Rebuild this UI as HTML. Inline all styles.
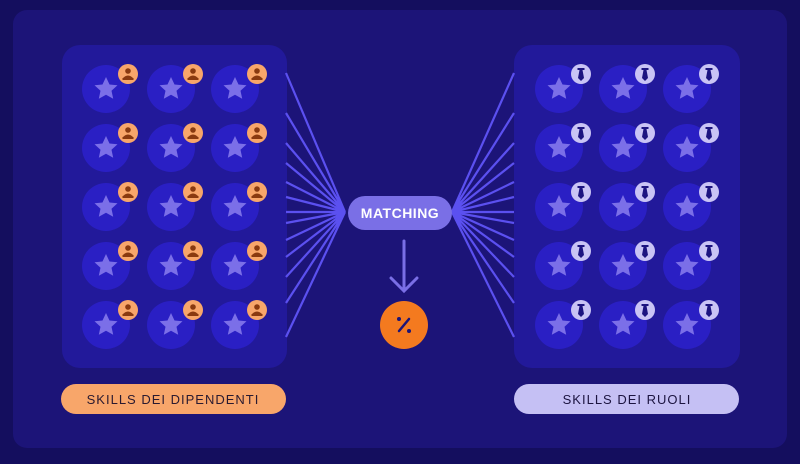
<!DOCTYPE html>
<html><head><style>
body{margin:0;width:800px;height:459px;background:#140e5e;overflow:hidden;font-family:"Liberation Sans",sans-serif}
</style></head><body>
<svg width="800" height="459" xmlns="http://www.w3.org/2000/svg">
<defs>
<g id="star"><polygon points="0,-12 3.5,-4.5 11.5,-3.7 5.5,1.8 7.2,9.8 0,5.8 -7.2,9.8 -5.5,1.8 -11.5,-3.7 -3.5,-4.5" fill="#7b6fe8"/></g>
<g id="cellL"><circle r="24" fill="#2a1fc4"/><use href="#star"/>
<circle cx="22" cy="-15" r="10" fill="#f8a66a"/><circle cx="22" cy="-18" r="2.8" fill="#8a3a10"/><path d="M16.5,-10.5 q5.5,-6 11,0 z" fill="#8a3a10"/><rect x="16.5" y="-11" width="11" height="2" fill="#8a3a10"/></g>
<g id="cellR"><circle r="24" fill="#2a1fc4"/><use href="#star"/>
<circle cx="22" cy="-15" r="10" fill="#c9c4f5"/><rect x="18.5" y="-21" width="7" height="2" fill="#1c1480"/><path d="M20.5,-19 h3 l1.5,8 l-3,3 l-3,-3 z" fill="#1c1480"/></g>
</defs>
<rect x="13" y="10" width="774" height="438" rx="14" fill="#1c1478"/>
<rect x="62" y="45" width="225" height="323" rx="18" fill="#22199a"/>
<rect x="514" y="45" width="226" height="323" rx="18" fill="#22199a"/>
<g stroke="#5b50f0" stroke-width="2.2" fill="none">
<path d="M345,212 L286,73 M345,212 L286,113 M345,212 L286,143 M345,212 L286,163 M345,212 L286,182 M345,212 L286,197 M345,212 L286,212 M345,212 L286,223 M345,212 L286,240 M345,212 L286,257 M345,212 L286,277 M345,212 L286,303 M345,212 L286,337"/>
<path d="M452,212 L514,73 M452,212 L514,113 M452,212 L514,143 M452,212 L514,163 M452,212 L514,182 M452,212 L514,197 M452,212 L514,212 M452,212 L514,223 M452,212 L514,240 M452,212 L514,257 M452,212 L514,277 M452,212 L514,303 M452,212 L514,337"/>
</g>
<g>
<use href="#cellL" x="106" y="89"/><use href="#cellL" x="171" y="89"/><use href="#cellL" x="235" y="89"/>
<use href="#cellL" x="106" y="148"/><use href="#cellL" x="171" y="148"/><use href="#cellL" x="235" y="148"/>
<use href="#cellL" x="106" y="207"/><use href="#cellL" x="171" y="207"/><use href="#cellL" x="235" y="207"/>
<use href="#cellL" x="106" y="266"/><use href="#cellL" x="171" y="266"/><use href="#cellL" x="235" y="266"/>
<use href="#cellL" x="106" y="325"/><use href="#cellL" x="171" y="325"/><use href="#cellL" x="235" y="325"/>
<use href="#cellR" x="559" y="89"/><use href="#cellR" x="623" y="89"/><use href="#cellR" x="687" y="89"/>
<use href="#cellR" x="559" y="148"/><use href="#cellR" x="623" y="148"/><use href="#cellR" x="687" y="148"/>
<use href="#cellR" x="559" y="207"/><use href="#cellR" x="623" y="207"/><use href="#cellR" x="687" y="207"/>
<use href="#cellR" x="559" y="266"/><use href="#cellR" x="623" y="266"/><use href="#cellR" x="687" y="266"/>
<use href="#cellR" x="559" y="325"/><use href="#cellR" x="623" y="325"/><use href="#cellR" x="687" y="325"/>
</g>
<rect x="348" y="196" width="104" height="34" rx="17" fill="#7a6fe6"/>
<text x="400" y="218" text-anchor="middle" font-size="14" font-weight="bold" fill="#fff" letter-spacing="0.5" font-family="Liberation Sans">MATCHING</text>
<g stroke="#7a6fe6" stroke-width="3" fill="none" stroke-linecap="round">
<path d="M404,241 V290 M391,278 L404,291 L417,278"/></g>
<circle cx="404" cy="325" r="24" fill="#f47a1f"/>
<g stroke="#1c1478" stroke-width="2.5" stroke-linecap="round"><path d="M409,319 L399,331"/></g>
<circle cx="399" cy="319" r="2" fill="#1c1478"/><circle cx="409" cy="331" r="2" fill="#1c1478"/>
<rect x="61" y="384" width="225" height="30" rx="15" fill="#f8a66a"/>
<text x="173" y="404" text-anchor="middle" font-size="13" fill="#2a1a30" letter-spacing="1" font-family="Liberation Sans">SKILLS DEI DIPENDENTI</text>
<rect x="514" y="384" width="225" height="30" rx="15" fill="#c5c0f4"/>
<text x="627" y="404" text-anchor="middle" font-size="13" fill="#1c1440" letter-spacing="1" font-family="Liberation Sans">SKILLS DEI RUOLI</text>
</svg>
</body></html>
